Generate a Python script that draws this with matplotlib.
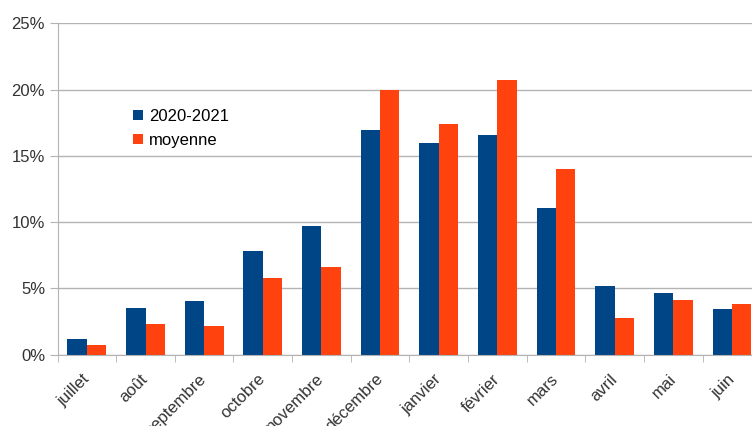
import matplotlib
matplotlib.use("Agg")
import matplotlib.pyplot as plt
import numpy as np
from matplotlib.ticker import FixedLocator, FuncFormatter

plt.rcParams['font.family'] = ['Liberation Sans', 'DejaVu Sans']

# monthly share (%)
months = ['juillet', 'août', 'septembre', 'octobre', 'novembre', 'décembre',
          'janvier', 'février', 'mars', 'avril', 'mai', 'juin']
season_2020 = [1.19, 3.53, 4.01, 7.83, 9.67, 16.98, 16.0, 16.58, 11.05, 5.19, 4.61, 3.43]
moyenne = [0.69, 2.28, 2.15, 5.77, 6.58, 19.95, 17.38, 20.7, 13.97, 2.75, 4.11, 3.83]
series_names = ['2020-2021', 'moyenne']

blue = '#004586'
orange = '#ff420e'
grid = '#b3b3b3'

fig = plt.figure(figsize=(7.52, 4.26), dpi=100)
# the chart is cropped on the right, so the axes run past the figure edge
ax = fig.add_axes([0.0765, 0.1678, 0.936, 0.7775])

x = np.arange(len(months))
w = 0.33
ax.bar(x - w / 2, season_2020, w, color=blue, label=series_names[0], zorder=2)
ax.bar(x + w / 2, moyenne, w, color=orange, label=series_names[1], zorder=2)

ax.set_xlim(-0.5, len(months) - 0.5)
ax.set_ylim(0, 25)
ax.set_yticks([0, 5, 10, 15, 20, 25])
ax.yaxis.set_major_formatter(FuncFormatter(lambda v, p: '%d%%' % v))
ax.yaxis.grid(True, color=grid, linewidth=1, zorder=0)
ax.tick_params(axis='y', length=6, color=grid, pad=3, labelsize=12, labelcolor='#333333')

ax.set_xticks(x)
ax.set_xticklabels(months, rotation=45, ha='right', va='center',
                   rotation_mode='anchor', fontsize=12, color='#333333')
ax.xaxis.set_minor_locator(FixedLocator(np.arange(-0.5, len(months), 1)))
ax.tick_params(axis='x', which='major', length=0, pad=16)
ax.tick_params(axis='x', which='minor', length=5, color=grid)

for s in ['top', 'right']:
    ax.spines[s].set_visible(False)
for s in ['left', 'bottom']:
    ax.spines[s].set_color(grid)

ax.legend(loc='upper left', bbox_to_anchor=(133 / 752, 1 - 109 / 426),
          bbox_transform=fig.transFigure, frameon=False, fontsize=12,
          borderpad=0, borderaxespad=0, handlelength=0.6, handleheight=0.6,
          handletextpad=0.35, labelspacing=0.53)

fig.savefig('out.png', dpi=100)
